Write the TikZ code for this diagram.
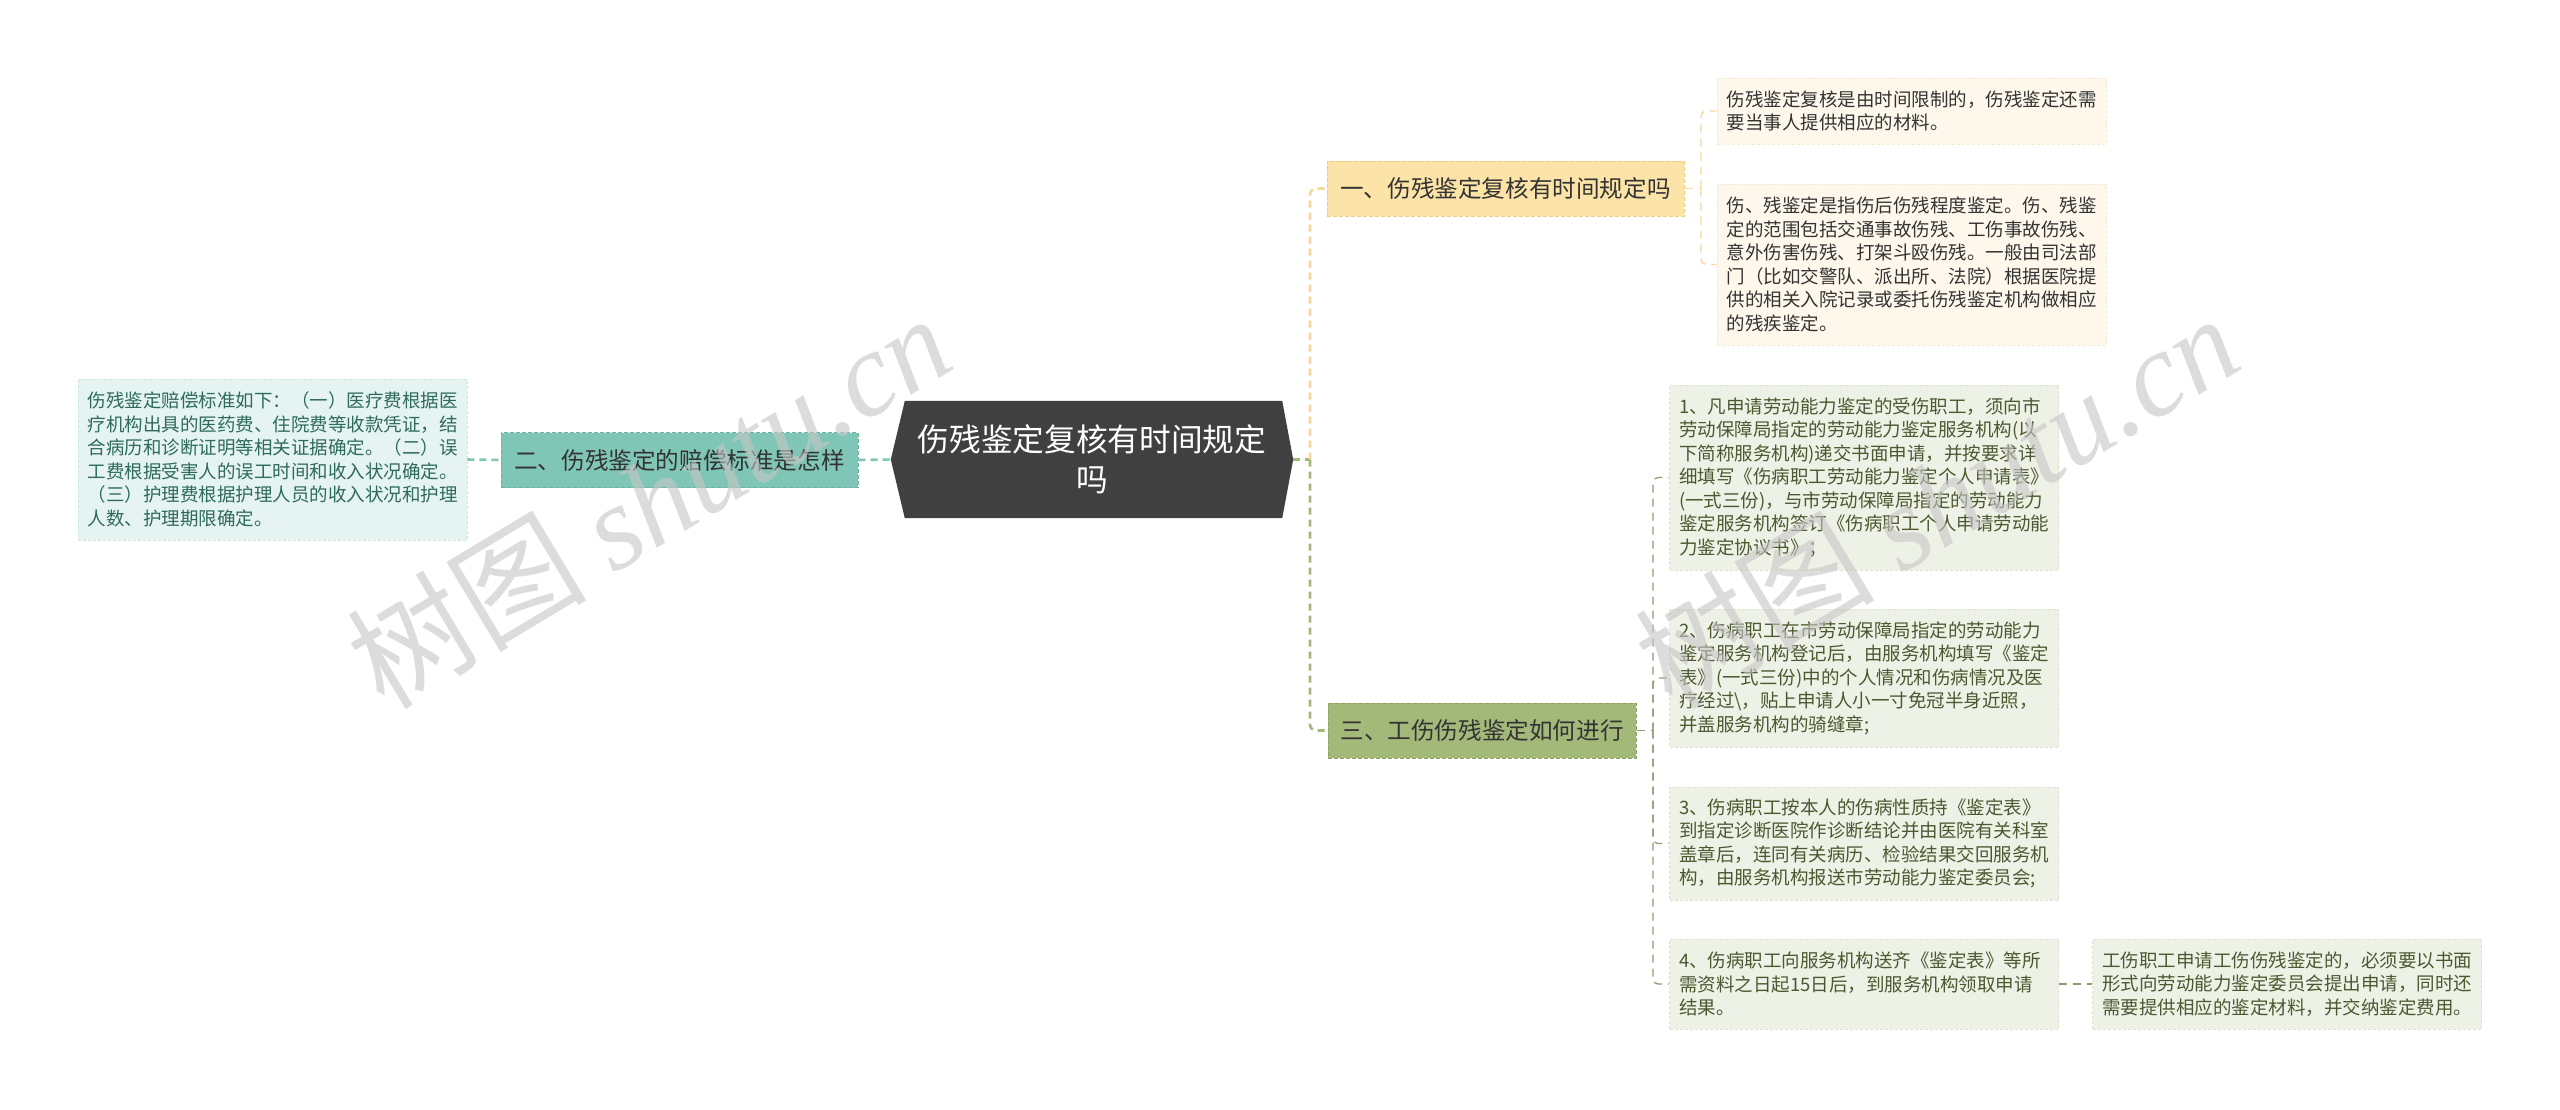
\documentclass[tikz,border=0pt]{standalone}
\usepackage{fontspec}
\setmainfont{Noto Sans CJK SC}
\newfontfamily\wmfont{Liberation Serif}
\usetikzlibrary{backgrounds}
\definecolor{cdark}{HTML}{404040}
\definecolor{ctealfill}{HTML}{80C6B6}
\definecolor{ctealdraw}{HTML}{6BB3A2}
\definecolor{ctealleaf}{HTML}{E5F4F0}
\definecolor{ctealleafdraw}{HTML}{CBE8E0}
\definecolor{ctealtext}{HTML}{2E6A5E}
\definecolor{corgfill}{HTML}{FCE3A8}
\definecolor{corgdraw}{HTML}{F0CC80}
\definecolor{corgleaf}{HTML}{FDF8EB}
\definecolor{corgleafdraw}{HTML}{F5EBD0}
\definecolor{corgline}{HTML}{F6D89A}
\definecolor{cgrnfill}{HTML}{A3B979}
\definecolor{cgrndraw}{HTML}{8DA462}
\definecolor{cgrnleaf}{HTML}{EEF1E6}
\definecolor{cgrnleafdraw}{HTML}{DDE3CF}
\definecolor{cgrntext}{HTML}{4C5830}
\definecolor{cgrnline}{HTML}{8F9A6E}
\definecolor{ctext}{HTML}{333333}
\begin{document}
\begin{tikzpicture}[x=1pt,y=-1pt,
  leafbox/.style={inner sep=0pt, minimum width=389pt, text width=370pt, align=left,
    font=\fontsize{18.5}{23.5}\selectfont, draw, dash pattern=on 3pt off 2pt, line width=0.8pt},
  tealleaf/.style={leafbox, fill=ctealleaf, draw=ctealleafdraw, text=ctealtext},
  orgleaf/.style={leafbox, fill=corgleaf, draw=corgleafdraw, text=ctext},
  grnleaf/.style={leafbox, fill=cgrnleaf, draw=cgrnleafdraw, text=cgrntext},
  topicbox/.style={inner sep=0pt, minimum height=55pt, align=center, text=ctext,
    font=\fontsize{23.6}{28}\selectfont, draw, dash pattern=on 4pt off 2pt, line width=1pt},
  mainline/.style={line width=2.6pt, dash pattern=on 7pt off 5pt},
  leafline/.style={line width=1.3pt, dash pattern=on 8pt off 6pt},
  wm/.style={text=gray!45, text opacity=0.6, font=\fontsize{120}{130}\selectfont, rotate=31}
]
\useasboundingbox (0,0) rectangle (2560,1109);

% central
\node[inner sep=0pt, minimum width=402pt, minimum height=117pt, text width=390pt, align=center,
  text=white, font=\fontsize{31.7}{40}\selectfont] (c) at (1092,459.5) {伤残鉴定复核有时间规定\\吗};
\begin{scope}[on background layer]
\fill[white] (0,0) rectangle (2560,1109);
\fill[cdark] ([xshift=14pt]c.north west) -- ([xshift=-11pt]c.north east) -- (c.east)
  -- ([xshift=-11pt]c.south east) -- ([xshift=14pt]c.south west) -- (c.west) -- cycle;
\end{scope}

% level 1
\node[topicbox, fill=ctealfill, draw=ctealdraw, minimum width=357pt] (n2) at (679.5,460) {二、伤残鉴定的赔偿标准是怎样};
\node[topicbox, fill=corgfill, draw=corgdraw, minimum width=357pt] (n1) at (1505.5,188.5) {一、伤残鉴定复核有时间规定吗};
\node[topicbox, fill=cgrnfill, draw=cgrndraw, minimum width=308pt] (n3) at (1482,730.5) {三、工伤伤残鉴定如何进行};

% leaves
\node[tealleaf, minimum height=161pt] (ll) at (272.5,459.5) {伤残鉴定赔偿标准如下：（一）医疗费根据医\\疗机构出具的医药费、住院费等收款凭证，结\\合病历和诊断证明等相关证据确定。（二）误\\工费根据受害人的误工时间和收入状况确定。\\（三）护理费根据护理人员的收入状况和护理\\人数、护理期限确定。};

\node[orgleaf, minimum height=66pt] (l1a) at (1911.5,111) {伤残鉴定复核是由时间限制的，伤残鉴定还需\\要当事人提供相应的材料。};
\node[orgleaf, minimum height=161pt] (l1b) at (1911.5,264.5) {伤、残鉴定是指伤后伤残程度鉴定。伤、残鉴\\定的范围包括交通事故伤残、工伤事故伤残、\\意外伤害伤残、打架斗殴伤残。一般由司法部\\门（比如交警队、派出所、法院）根据医院提\\供的相关入院记录或委托伤残鉴定机构做相应\\的残疾鉴定。};

\node[grnleaf, minimum height=185pt] (l31) at (1864,477.5) {1、凡申请劳动能力鉴定的受伤职工，须向市\\劳动保障局指定的劳动能力鉴定服务机构(以\\下简称服务机构)递交书面申请，并按要求详\\细填写《伤病职工劳动能力鉴定个人申请表》\\(一式三份)，与市劳动保障局指定的劳动能力\\鉴定服务机构签订《伤病职工个人申请劳动能\\力鉴定协议书》；};
\node[grnleaf, minimum height=138pt] (l32) at (1864,678) {2、伤病职工在市劳动保障局指定的劳动能力\\鉴定服务机构登记后，由服务机构填写《鉴定\\表》(一式三份)中的个人情况和伤病情况及医\\疗经过\textbackslash，贴上申请人小一寸免冠半身近照，\\并盖服务机构的骑缝章;};
\node[grnleaf, minimum height=113pt] (l33) at (1864,843.5) {3、伤病职工按本人的伤病性质持《鉴定表》\\到指定诊断医院作诊断结论并由医院有关科室\\盖章后，连同有关病历、检验结果交回服务机\\构，由服务机构报送市劳动能力鉴定委员会;};
\node[grnleaf, minimum height=90pt] (l34) at (1864,984) {4、伤病职工向服务机构送齐《鉴定表》等所\\需资料之日起15日后，到服务机构领取申请\\结果。};
\node[grnleaf, minimum height=90pt] (l34a) at (2287,984) {工伤职工申请工伤伤残鉴定的，必须要以书面\\形式向劳动能力鉴定委员会提出申请，同时还\\需要提供相应的鉴定材料，并交纳鉴定费用。};

% junctions
\coordinate (j0) at (1310,459.5);
\coordinate (j1) at (1701,188.5);
\coordinate (j3) at (1653,730.5);

% connectors
\draw[mainline, draw=ctealfill] (ll.east) -- (n2.west);
\draw[mainline, draw=ctealfill] (n2.east) -- (c.west);
\draw[mainline, draw=cgrnfill] (c.east) -- (j0);
\draw[mainline, draw=corgline, rounded corners=6pt] (j0) |- (n1.west);
\draw[mainline, draw=cgrnfill, rounded corners=6pt] (j0) |- (n3.west);

\draw[leafline, draw=corgline] (n1.east) -- (j1);
\draw[leafline, draw=corgline, rounded corners=5pt] (j1) |- (l1a.west);
\draw[leafline, draw=corgline, rounded corners=5pt] (j1) |- (l1b.west);

\draw[leafline, draw=cgrnline] (n3.east) -- (j3);
\draw[leafline, draw=cgrnline, rounded corners=5pt] (j3) |- (l31.west);
\draw[leafline, draw=cgrnline, rounded corners=5pt] (j3) |- (l32.west);
\draw[leafline, draw=cgrnline, rounded corners=5pt] (j3) |- (l33.west);
\draw[leafline, draw=cgrnline, rounded corners=5pt] (j3) |- (l34.west);
\draw[leafline, draw=cgrnline] (l34.east) -- (l34a.west);

% watermarks
\node[wm] (wm1) at (648,500) {树图 {\wmfont\itshape shutu.cn}};
\node[wm] (wm2) at (1936,500) {树图 {\wmfont\itshape shutu.cn}};
\end{tikzpicture}
\end{document}
